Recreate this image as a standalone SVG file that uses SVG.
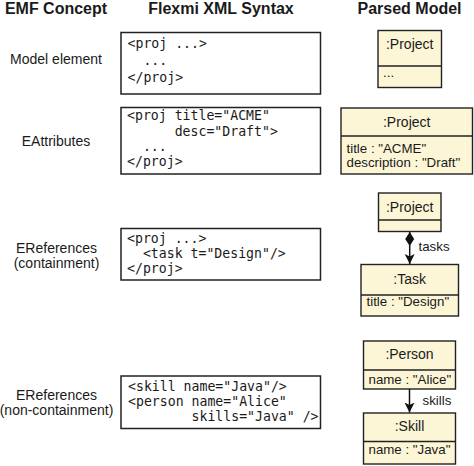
<svg xmlns="http://www.w3.org/2000/svg" width="474" height="466" viewBox="0 0 474 466">
<defs>
<style>
.hdr{font-family:"Liberation Sans",Arial,sans-serif;font-weight:bold;font-size:16px;fill:#1a1a1a;text-anchor:middle}
.lbl{font-family:"Liberation Sans",Arial,sans-serif;font-size:14px;fill:#1a1a1a;text-anchor:middle}
.code{font-family:"DejaVu Sans Mono",monospace;font-size:13.2px;fill:#1a1a1a;white-space:pre}
.cbox{fill:#ffffff;stroke:#222;stroke-width:1.5}
.ubox{fill:#fcf6d6;stroke:#222;stroke-width:1.4}
.div{stroke:#222;stroke-width:1.3}
.cn{font-family:"Liberation Sans",Arial,sans-serif;font-size:14px;fill:#1a1a1a;text-anchor:middle}
.at{font-family:"Liberation Sans",Arial,sans-serif;font-size:13.3px;fill:#1a1a1a}
.rl{font-family:"Liberation Sans",Arial,sans-serif;font-size:13.3px;fill:#1a1a1a}
.edge{stroke:#111;stroke-width:1.5;fill:none}
</style>
<marker id="arrow" viewBox="0 0 10 12" refX="10" refY="6" markerWidth="10" markerHeight="12" markerUnits="userSpaceOnUse" orient="auto">
<path d="M0,1 L10,6 L0,11 L2.5,6 Z" fill="#111"/>
</marker>
<marker id="diamond" viewBox="0 0 14 10" refX="0" refY="5" markerWidth="14" markerHeight="10" markerUnits="userSpaceOnUse" orient="auto">
<path d="M0,5 L7,0.5 L14,5 L7,9.5 Z" fill="#111"/>
</marker>
</defs>
<rect width="474" height="466" fill="#ffffff"/>

<g id="headers">
<text class="hdr" x="56" y="14">EMF Concept</text>
<text class="hdr" x="221" y="14">Flexmi XML Syntax</text>
<text class="hdr" x="409.5" y="14">Parsed Model</text>
</g>

<g id="concept-labels">
<text class="lbl" x="56" y="63.5">Model element</text>
<text class="lbl" x="56" y="146">EAttributes</text>
<text class="lbl" x="56.5" y="253">EReferences</text>
<text class="lbl" x="56.5" y="267.5">(containment)</text>
<text class="lbl" x="56.5" y="400">EReferences</text>
<text class="lbl" x="56.5" y="414.5">(non-containment)</text>
</g>

<g id="code1">
<rect class="cbox" x="121" y="32.5" width="199.5" height="61.5"/>
<text class="code" x="127.5" y="47.5" xml:space="preserve">&lt;proj ...&gt;</text>
<text class="code" x="127.5" y="64.5" xml:space="preserve">  ...</text>
<text class="code" x="127.5" y="82" xml:space="preserve">&lt;/proj&gt;</text>
</g>

<g id="code2">
<rect class="cbox" x="121" y="107.5" width="199.5" height="66.5"/>
<text class="code" x="127" y="120" xml:space="preserve">&lt;proj title="ACME"</text>
<text class="code" x="127" y="135.5" xml:space="preserve">      desc="Draft"&gt;</text>
<text class="code" x="127" y="150.5" xml:space="preserve">  ...</text>
<text class="code" x="127" y="165.5" xml:space="preserve">&lt;/proj&gt;</text>
</g>

<g id="code3">
<rect class="cbox" x="121" y="228.5" width="199.5" height="51.5"/>
<text class="code" x="127" y="243" xml:space="preserve">&lt;proj ...&gt;</text>
<text class="code" x="127" y="258" xml:space="preserve">  &lt;task t="Design"/&gt;</text>
<text class="code" x="127" y="273" xml:space="preserve">&lt;/proj&gt;</text>
</g>

<g id="code4">
<rect class="cbox" x="121" y="376" width="199.5" height="52.5"/>
<text class="code" x="128" y="391" xml:space="preserve">&lt;skill name="Java"/&gt;</text>
<text class="code" x="128" y="406" xml:space="preserve">&lt;person name="Alice"</text>
<text class="code" x="128" y="420.5" xml:space="preserve">        skills="Java" /&gt;</text>
</g>

<g id="project1">
<rect class="ubox" x="378" y="30.5" width="63.5" height="57"/>
<line class="div" x1="378" y1="66" x2="441.5" y2="66"/>
<text class="cn" x="409.7" y="49">:Project</text>
<text class="at" x="383" y="77">...</text>
</g>

<g id="project2">
<rect class="ubox" x="341" y="108" width="131.5" height="66"/>
<line class="div" x1="341" y1="136" x2="472.5" y2="136"/>
<text class="cn" x="406.7" y="126.5">:Project</text>
<text class="at" x="346.5" y="153">title : "ACME"</text>
<text class="at" x="346.5" y="166.5">description : "Draft"</text>
</g>

<g id="project3">
<rect class="ubox" x="378.5" y="193" width="62.5" height="38.5"/>
<line class="div" x1="378.5" y1="220" x2="441" y2="220"/>
<text class="cn" x="409.7" y="211.5">:Project</text>
</g>

<g id="task">
<rect class="ubox" x="361" y="264.5" width="97.5" height="51.5"/>
<line class="div" x1="361" y1="295" x2="458.5" y2="295"/>
<text class="cn" x="409.7" y="283.5">:Task</text>
<text class="at" x="366.5" y="306">title : "Design"</text>
</g>

<g id="person">
<rect class="ubox" x="363.5" y="341" width="92" height="48"/>
<line class="div" x1="363.5" y1="370" x2="455.5" y2="370"/>
<text class="cn" x="409.5" y="358.5">:Person</text>
<text class="at" x="368.5" y="383.5">name : "Alice"</text>
</g>

<g id="skill">
<rect class="ubox" x="363.5" y="413" width="92" height="51"/>
<line class="div" x1="363.5" y1="441.5" x2="455.5" y2="441.5"/>
<text class="cn" x="409.5" y="430.5">:Skill</text>
<text class="at" x="368.5" y="454">name : "Java"</text>
</g>

<g id="connectors">
<line class="edge" x1="409.7" y1="232" x2="409.7" y2="264" marker-start="url(#diamond)" marker-end="url(#arrow)"/>
<text class="rl" x="418.5" y="250.5">tasks</text>
<line class="edge" x1="409.5" y1="389" x2="409.5" y2="412.5" marker-end="url(#arrow)"/>
<text class="rl" x="422.5" y="404.5">skills</text>
</g>
</svg>
